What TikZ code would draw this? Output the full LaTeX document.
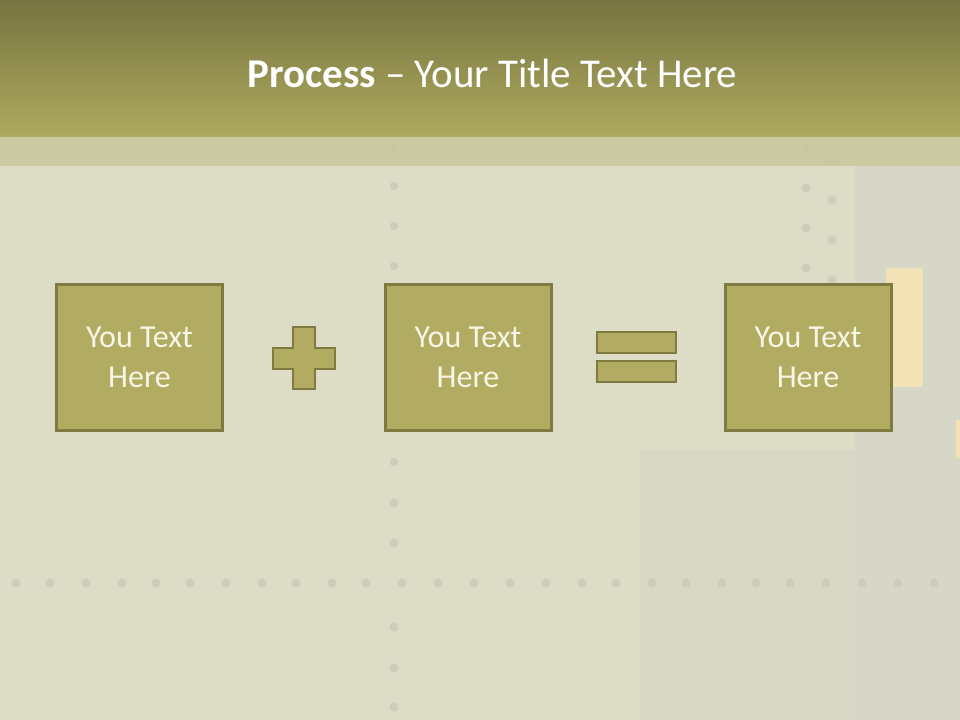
\documentclass[tikz,border=0pt]{standalone}
\usepackage{fontspec}
\setmainfont{Carlito}
\definecolor{bgc}{HTML}{DCDCC7}
\definecolor{bgr}{HTML}{D3D4C6}
\definecolor{toptop}{HTML}{767440}
\definecolor{topbot}{HTML}{AFAA5F}
\definecolor{bandc}{HTML}{C9C69C}
\definecolor{boxfill}{HTML}{B1AC62}
\definecolor{boxline}{HTML}{7E7A40}
\definecolor{paleyel}{HTML}{F1E3B6}
\definecolor{rivet}{HTML}{CDCDBC}
\definecolor{txtc}{HTML}{F7F6E6}
\begin{document}
\begin{tikzpicture}[x=0.75pt,y=-0.75pt,
  stepbox/.style={draw=boxline,fill=boxfill,line width=2.25pt,minimum width=124.5pt,minimum height=109.5pt,
    inner sep=0pt,text=txtc,font=\fontsize{24}{30}\selectfont,align=center},
  symb/.style={draw=boxline,fill=boxfill,line width=2.2pt},
  rv/.style={fill=rivet,draw=none}]
\useasboundingbox (0,0) rectangle (960,720);
% background
\fill[bgc] (0,0) rectangle (960,720);
\fill[bgr,opacity=0.6] (855,166) rectangle (960,720);
\fill[bgr,opacity=0.4] (640,450) rectangle (855,720);
\fill[paleyel] (886,268) rectangle (923,387);
\fill[paleyel] (956,420) rectangle (960,458);
% faint rivets
\foreach \xx in {16,50,86,122,156,190,226,262,296,332,366,402,438,474,510,546,582,616,652,686,722,756,790,826,862,898,934}
  \fill[rv] (\xx,583) circle (4.5);
\foreach \yy in {148,186,226,266,462,503,543,627,668,707}
  \fill[rv] (394,\yy) circle (4.5);
\foreach \yy in {148,188,228,268}
  { \fill[rv] (806,\yy) circle (4.5); \fill[rv] (832,\yy+12) circle (4.5); }
% title band
\shade[top color=toptop,bottom color=topbot] (0,0) rectangle (960,137);
\fill[bandc,opacity=0.85] (0,137) rectangle (960,166);
\node[text=white,font=\fontsize{30.7}{36}\selectfont,anchor=base] (title) at (492.5,88)
  {\textbf{Process} – Your Title Text Here};
% boxes
\node[stepbox] (b1) at (139.5,357.5) {You Text\\Here};
\node[stepbox] (b2) at (468,357.5) {You Text\\Here};
\node[stepbox] (b3) at (808,357.5) {You Text\\Here};
% plus
\draw[symb] (293,327) -- (315,327) -- (315,348) -- (335,348) -- (335,369) -- (315,369)
  -- (315,389) -- (293,389) -- (293,369) -- (273,369) -- (273,348) -- (293,348) -- cycle;
% equals
\draw[symb] (597,332) rectangle (676,353);
\draw[symb] (597,361) rectangle (676,382);
\end{tikzpicture}
\end{document}
